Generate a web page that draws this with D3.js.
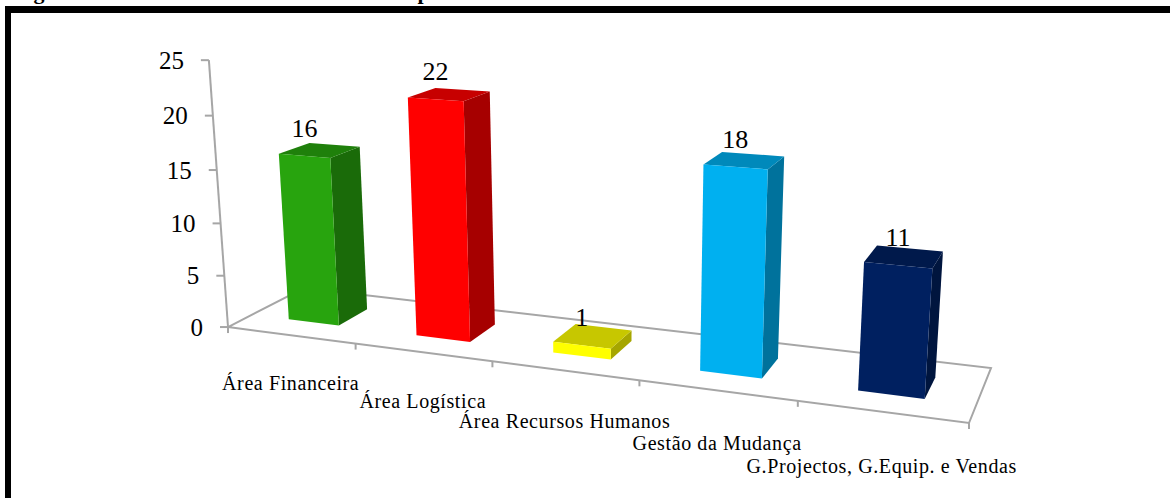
<!DOCTYPE html>
<html><head><meta charset="utf-8">
<script src="https://cdn.jsdelivr.net/npm/d3@7"></script>
<style>html,body{margin:0;padding:0;background:#fff;} svg{display:block}</style>
</head><body><svg id="chart" width="1170" height="498"></svg>
<script>
const categories = ["Área Financeira", "Área Logística", "Área Recursos Humanos", "Gestão da Mudança", "G.Projectos, G.Equip. e Vendas"];
const values = [16, 22, 1, 18, 11];
const barColors = ["#28A40E", "#FF0000", "#FFFF00", "#00B0F0", "#002060"];
const yTicks = [0, 5, 10, 15, 20, 25];

const svg = d3.select("#chart");
const serif = "Liberation Serif, Times New Roman, serif";

// world space: x = category slots, y = value, z = depth (0 front, 1 back)
const xBand = d3.scaleBand().domain(categories).range([0, 5]).paddingInner(0.6).paddingOuter(0.3);
const xSlot = d3.scaleLinear().domain([0, categories.length]).range([0, 5]);
const yVal = d3.scaleLinear().domain([0, 25]).range([0, 25]);
const barDepth = [0.3, 0.7];

// perspective camera: homogeneous 3x4 projection, world -> screen pixels
const camera = [
  [115.6801, -1.159837, 101.5253, 228.0024],
  [4.993581, -10.78929, -14.86916, 327.0533],
  [-0.03355973, -0.001891482, 0.0839726, 1]
];
function proj([X, Y, Z]) {
  const [a, b, c] = camera;
  const w = c[0]*X + c[1]*Y + c[2]*Z + c[3];
  return [(a[0]*X + a[1]*Y + a[2]*Z + a[3]) / w,
          (b[0]*X + b[1]*Y + b[2]*Z + b[3]) / w];
}
const poly = pts => "M" + pts.map(q => proj(q).join(",")).join("L") + "Z";

const grey = "#A6A6A6";
const g = svg.append("g");

// floor
g.append("path").attr("d", poly([[0,0,0],[5,0,0],[5,0,1],[0,0,1]]))
  .attr("fill", "#fff").attr("stroke", grey).attr("stroke-width", 2);

// value axis with ticks and labels
const [a0, a1] = [proj([0, yVal(0), 0]), proj([0, yVal(25), 0])];
g.append("line").attr("x1", a0[0]).attr("y1", a0[1]).attr("x2", a1[0]).attr("y2", a1[1])
  .attr("stroke", grey).attr("stroke-width", 2);
yTicks.forEach(t => {
  const [x, y] = proj([0, yVal(t), 0]);
  g.append("line").attr("x1", x - 8).attr("x2", x).attr("y1", y).attr("y2", y)
    .attr("stroke", grey).attr("stroke-width", 2);
  g.append("text").attr("x", x - 25).attr("y", y).attr("dy", "0.35em")
    .attr("text-anchor", "end").attr("font-family", serif)
    .attr("font-size", 25).text(t);
});

// category ticks on the front edge
d3.range(categories.length + 1).forEach(i => {
  const [x, y] = proj([xSlot(i), 0, 0]);
  g.append("line").attr("x1", x).attr("x2", x).attr("y1", y).attr("y2", y + 6)
    .attr("stroke", grey).attr("stroke-width", 2);
});

// 3D columns: right side, top, front
const shade = (c, k) => { const r = d3.rgb(c); return d3.rgb(r.r*k, r.g*k, r.b*k).formatHex(); };
categories.forEach((c, i) => {
  const x0 = xBand(c), x1 = x0 + xBand.bandwidth();
  const [z0, z1] = barDepth;
  const h = yVal(values[i]);
  const bar = g.append("g");
  bar.append("path").attr("d", poly([[x1,0,z0],[x1,0,z1],[x1,h,z1],[x1,h,z0]])).attr("fill", shade(barColors[i], 0.65));
  bar.append("path").attr("d", poly([[x0,h,z0],[x1,h,z0],[x1,h,z1],[x0,h,z1]])).attr("fill", shade(barColors[i], 0.78));
  bar.append("path").attr("d", poly([[x0,0,z0],[x1,0,z0],[x1,h,z0],[x0,h,z0]])).attr("fill", barColors[i]);
  const [lx, ly] = proj([(x0 + x1) / 2, h, z0]);
  g.append("text").attr("x", lx).attr("y", ly - 19).attr("text-anchor", "middle")
    .attr("font-family", serif).attr("font-size", 26).text(values[i]);
});

// category labels, staggered along the front edge
categories.forEach((c, i) => {
  const xc = xSlot(i + 0.5);
  const x = proj([xc, 0, 0])[0];
  const y = proj([xc, 0, -0.45])[1] + 34;
  g.append("text").attr("x", x).attr("y", y).attr("text-anchor", "middle")
    .attr("font-family", serif).attr("font-size", 20)
    .attr("letter-spacing", "0.6px").text(c);
});

// heading above the frame, and the frame itself
svg.append("text").attr("x", 14).attr("y", -1).attr("font-family", serif)
  .attr("font-weight", "bold").attr("font-size", 22).text("Figura 1 – Número de formandos inscritos por área");
svg.append("rect").attr("x", 5).attr("y", 6).attr("width", 6).attr("height", 500).attr("fill", "#000");
svg.append("rect").attr("x", 5).attr("y", 6).attr("width", 1170).attr("height", 7).attr("fill", "#000");
</script></body></html>
